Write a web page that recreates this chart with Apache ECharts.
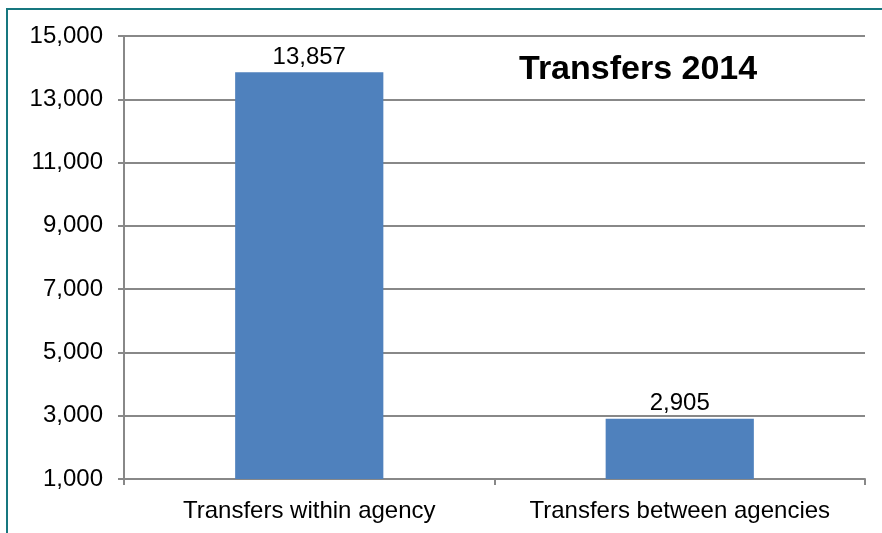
<!DOCTYPE html>
<html>
<head>
<meta charset="utf-8">
<script src="https://cdn.jsdelivr.net/npm/echarts@6/dist/echarts.min.js"></script>
<style>
  html, body { margin: 0; padding: 0; background: #fff; }
  #main { width: 882px; height: 533px; }
</style>
</head>
<body>
<div id="main"></div>
<script>
var categories = ['Transfers within agency', 'Transfers between agencies'];
var transfers = [13857, 2905];
var yTicks = [1000, 3000, 5000, 7000, 9000, 11000, 13000, 15000];

var chart = echarts.init(document.getElementById('main'));
var font = 'Liberation Sans, Arial, sans-serif';

var option = {
    animation: false,
    title: {
        text: 'Transfers 2014',
        left: 514,
        top: 48,
        textStyle: { fontFamily: font, fontSize: 34, fontWeight: 'bold', color: '#000' }
    },
    graphic: [{
        type: 'rect',
        shape: { x: 7, y: 9, width: 900, height: 560 },
        style: { fill: 'none', stroke: '#17777f', lineWidth: 2 },
        silent: true
    }],
    grid: { left: 124, right: 17, top: 36, bottom: 54 },
    xAxis: {
        type: 'category',
        data: categories,
        axisLine: { lineStyle: { color: '#888', width: 2 } },
        axisTick: { show: true, interval: 0, length: 6, lineStyle: { color: '#888', width: 2 } },
        axisLabel: { interval: 0, hideOverlap: false, fontFamily: font, fontSize: 24, color: '#000', margin: 20 }
    },
    yAxis: {
        type: 'value',
        min: yTicks[0],
        max: yTicks[yTicks.length - 1],
        interval: 2000,
        axisLine: { show: true, lineStyle: { color: '#888', width: 2 } },
        axisTick: { show: true, length: 6, lineStyle: { color: '#888', width: 2 } },
        splitLine: { lineStyle: { color: '#888', width: 2 } },
        axisLabel: {
            fontFamily: font, fontSize: 24, color: '#000', margin: 21,
            formatter: function (v) { return v.toLocaleString('en-US'); }
        }
    },
    series: [{
        type: 'bar',
        data: transfers,
        barWidth: '40%',
        itemStyle: { color: '#4f81bd' },
        label: {
            show: true,
            position: 'top',
            distance: 3,
            fontFamily: font,
            fontSize: 24,
            color: '#000',
            formatter: function (p) { return p.value.toLocaleString('en-US'); }
        }
    }]
};
chart.setOption(option);
</script>
</body>
</html>
